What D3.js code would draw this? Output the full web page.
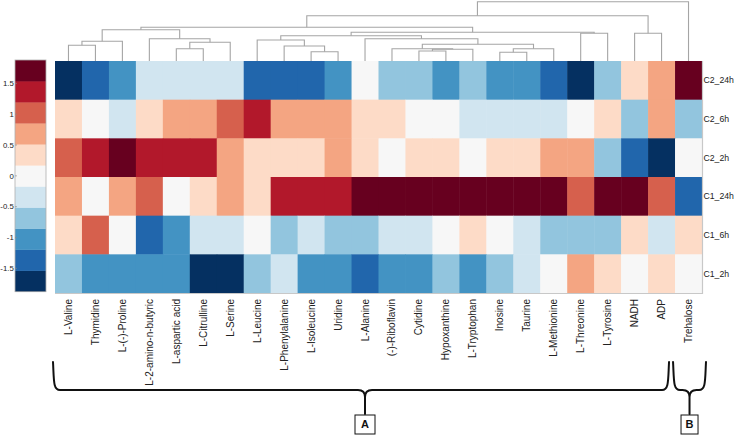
<!DOCTYPE html>
<html><head><meta charset="utf-8">
<script src="https://cdn.jsdelivr.net/npm/d3@7"></script>
<style>body{margin:0;background:#fff}svg{display:block;font-family:"Liberation Sans",Arial,sans-serif}</style>
</head><body><svg id="chart" width="735" height="441"></svg>
<script>
// ---------- data ----------
const metabolites = ["L-Valine","Thymidine","L-(-)-Proline","L-2-amino-n-butyric","L-aspartic  acid","L-Citrulline","L-Serine","L-Leucine","L-Phenylalanine","L-Isoleucine","Uridine","L-Alanine","(-)-Riboflavin","Cytidine","Hypoxanthine","L-Tryptophan","Inosine","Taurine","L-Methionine","L-Threonine","L-Tyrosine","NADH","ADP","Trehalose"];
const samples = ["C2_24h","C2_6h","C2_2h","C1_24h","C1_6h","C1_2h"];
const values_C2_24h = [-1.72,-1.36,-1.02,-0.33,-0.35,-0.34,-0.36,-1.35,-1.37,-1.34,-1.01,0.02,-0.70,-0.68,-1.03,-0.71,-0.99,-1.02,-1.36,-1.74,-0.69,0.35,0.70,1.73];
const values_C2_6h  = [0.34,0.01,-0.33,0.36,0.69,0.71,1.02,1.36,0.70,0.68,0.71,0.33,0.35,-0.02,0.01,-0.34,-0.36,-0.33,-0.35,0.02,0.34,-0.70,0.72,-0.69];
const values_C2_2h  = [1.01,1.37,1.74,1.36,1.34,1.35,0.70,0.33,0.35,0.34,0.69,0.36,-0.01,0.35,0.33,0.02,0.34,0.36,0.71,0.69,-0.71,-1.36,-1.72,0.01];
const values_C1_24h = [0.70,-0.02,0.68,1.02,0.01,0.34,0.71,0.36,1.36,1.35,1.37,1.72,1.75,1.73,1.71,1.74,1.72,1.76,1.73,1.01,1.74,1.72,0.99,-1.35];
const values_C1_6h  = [0.35,1.02,-0.01,-1.36,-1.02,-0.34,-0.35,0.02,-0.70,-0.33,-0.69,-0.71,-0.35,-0.34,0.01,0.34,-0.02,-0.35,-0.70,-0.69,-0.71,0.35,-0.34,0.33];
const values_C1_2h  = [-0.70,-1.01,-0.99,-1.02,-1.00,-1.73,-1.71,-0.69,-0.34,-1.01,-0.98,-1.36,-1.02,-0.99,-0.70,-1.01,-0.71,-0.35,0.01,0.70,0.34,-0.01,0.35,0.02];
const seriesValues = [values_C2_24h, values_C2_6h, values_C2_2h, values_C1_24h, values_C1_6h, values_C1_2h];
// column dendrogram linkage: [childA, childB, height]; leaves 0..23, clusters 24+
const linkage = [
  [16,17,0.87],[9,10,0.93],[13,14,1.00],[26,15,1.17],[4,5,1.23],[12,27,1.23],
  [24,18,1.23],[8,25,1.50],[0,1,1.57],[29,30,1.67],[28,6,1.87],[32,2,1.97],
  [7,31,2.10],[3,34,2.23],[11,33,2.23],[36,38,2.53],[19,20,2.77],[21,22,2.77],
  [39,40,2.87],[35,37,3.13],[43,42,3.37],[44,41,4.53],[45,23,5.93]
];
const legendTicks = [1.5,1,0.5,0,-0.5,-1,-1.5];
const palette = ["#053061","#2166ac","#4393c3","#92c5de","#d1e5f0","#f7f7f7","#fddbc7","#f4a582","#d6604d","#b2182b","#67001f"];
const groupLabels = ["A","B"];
const groupFirst = [0,23];
const groupLast = [22,23];

// ---------- chart ----------
const svg = d3.select("#chart");
const x = d3.scaleBand().domain(metabolites).range([55,702]);
const y = d3.scaleBand().domain(samples).range([61,293]);
const color = d3.scaleQuantize().domain([-1.88,1.88]).range(palette);
const dY = d3.scaleLinear().domain([0,5.93]).range([61,1.7]);
const bw = x.bandwidth();

// heatmap cells
const cells = [];
samples.forEach((s,i)=>metabolites.forEach((m,j)=>cells.push({s,m,v:seriesValues[i][j]})));
svg.append("g").selectAll("rect").data(cells).join("rect")
  .attr("x",d=>x(d.m)).attr("y",d=>y(d.s))
  .attr("width",bw+0.5).attr("height",y.bandwidth()+0.5)
  .attr("fill",d=>color(d.v));
// light frame right & bottom
svg.append("path").attr("d",`M${x.range()[1]+0.5},${y.range()[0]}V${y.range()[1]+0.5}H${x.range()[0]}`)
  .attr("fill","none").attr("stroke","#c8c8c8").attr("stroke-width",1.2);

// dendrogram
const pos = metabolites.map(m=>({x:x(m)+bw/2,h:0}));
const g = svg.append("g").attr("fill","none").attr("stroke","#a5a5a5").attr("stroke-width",1.1);
linkage.forEach(([a,b,h])=>{
  const A=pos[a], B=pos[b];
  g.append("path").attr("d",`M${A.x},${dY(A.h)}V${dY(h)}H${B.x}V${dY(B.h)}`);
  pos.push({x:(A.x+B.x)/2,h});
});

// row labels
svg.append("g").selectAll("text").data(samples).join("text")
  .attr("x",703.5).attr("y",d=>y(d)+y.bandwidth()/2).attr("dy","0.35em")
  .attr("font-size",8.7).attr("fill","#222").text(d=>d);

// column labels
svg.append("g").selectAll("text").data(metabolites).join("text")
  .attr("transform",d=>`translate(${x(d)+bw/2},299) rotate(-90)`)
  .attr("dy","0.35em").attr("text-anchor","end")
  .attr("font-size",10).attr("fill","#222").text(d=>d);

// colorbar
const lY = d3.scaleLinear().domain([-1.88,1.88]).range([291.7,60]);
const lg = svg.append("g");
lg.selectAll("rect").data(palette).join("rect")
  .attr("x",15).attr("width",31)
  .attr("y",c=>lY(color.invertExtent(c)[1]))
  .attr("height",c=>lY(color.invertExtent(c)[0])-lY(color.invertExtent(c)[1])+0.3)
  .attr("fill",c=>c);
lg.append("rect").attr("x",15).attr("y",60).attr("width",31).attr("height",231.7)
  .attr("fill","none").attr("stroke","#b0b0b0").attr("stroke-width",0.8);
lg.selectAll("line").data(legendTicks).join("line")
  .attr("x1",15).attr("x2",17).attr("y1",d=>lY(d)).attr("y2",d=>lY(d))
  .attr("stroke","#888").attr("stroke-width",0.6);
lg.selectAll("text").data(legendTicks).join("text")
  .attr("x",13.8).attr("y",d=>lY(d)).attr("dy","0.35em").attr("text-anchor","end")
  .attr("font-size",7.8).attr("fill","#222").text(d=>String(d));

// braces
function brace(x0,x1,xt,yTop,yMid,yTip){
  const r=7;
  return `M${x0},${yTop}C${x0+1},${yMid-10} ${x0},${yMid} ${x0+r},${yMid}`+
    `H${xt-r}Q${xt},${yMid} ${xt},${yMid+r}V${yTip}`+
    `M${xt},${yMid+r}Q${xt},${yMid} ${xt+r},${yMid}`+
    `H${x1-r}C${x1},${yMid} ${x1-1},${yMid-10} ${x1},${yTop}`;
}
const bg = svg.append("g");
groupLabels.forEach((lab,i)=>{
  const x0 = x(metabolites[groupFirst[i]]) - 2;
  const x1 = x(metabolites[groupLast[i]]) + bw + (i===0 ? -6 : 4);
  const xt = i===0 ? 365 : (x0+x1)/2;
  bg.append("path").attr("d",brace(x0,x1,xt,362,390,414))
    .attr("fill","none").attr("stroke","#111").attr("stroke-width",2).attr("stroke-linecap","round");
  const w = i===0 ? 20 : 17;
  bg.append("rect").attr("x",xt-w/2).attr("y",415).attr("width",w).attr("height",19)
    .attr("fill","#fff").attr("stroke","#111").attr("stroke-width",1);
  bg.append("text").attr("x",xt).attr("y",424.5).attr("dy","0.36em").attr("text-anchor","middle")
    .attr("font-size",11).attr("font-weight","bold").attr("fill","#111").text(lab);
});
</script></body></html>
